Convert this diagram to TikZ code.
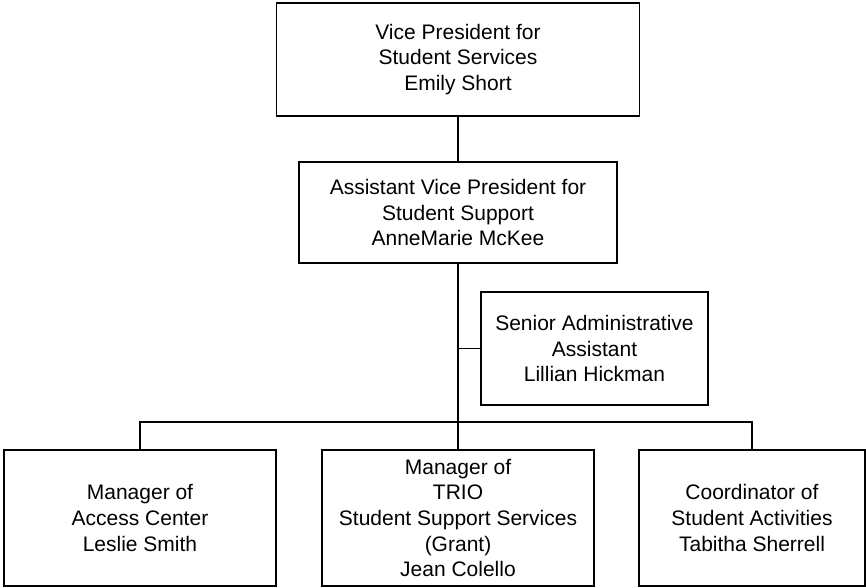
\documentclass[tikz,border=0pt]{standalone}
\usepackage{fontspec}
\setmainfont{Liberation Sans}
\usepackage{tikz}
\usetikzlibrary{positioning}

\begin{document}
\begin{tikzpicture}[x=1pt,y=-1pt,line cap=rect,
  post/.style={draw,line width=1.6pt,inner sep=0pt,align=center,
    font=\fontsize{21}{25.7}\selectfont,minimum height=113pt},
  link/.style={line width=1.3pt}]
\useasboundingbox (0,0) rectangle (866,587);
\node[post,minimum width=363pt] (vp) at (458,59.5) {Vice President for\\Student Services\\Emily Short};
\node[post,minimum width=318pt,minimum height=101pt] (avp) at (458,212.5) {Assistant Vice President for\\Student Support\\AnneMarie McKee};
\node[post,minimum width=227pt] (assist) at (594.5,348.5) {Senior Administrative\\Assistant\\Lillian Hickman};
\node[post,minimum width=272pt,minimum height=136pt] (access) at (140,518) {Manager of\\Access Center\\Leslie Smith};
\node[post,minimum width=272pt,minimum height=136pt] (trio) at (458,518) {Manager of\\TRIO\\Student Support Services\\(Grant)\\Jean Colello};
\node[post,minimum width=226pt,minimum height=136pt] (activities) at (752,518) {Coordinator of\\Student Activities\\Tabitha Sherrell};
\coordinate (bus) at (458,422);
% reporting lines
\draw[link] (vp) -- (avp);
\draw[link] (avp) -- (trio);
\draw[link] (assist.west) -- (assist.west -| avp.south);
\draw[link] (access.north) |- (bus) -| (activities.north);
\end{tikzpicture}
\end{document}
